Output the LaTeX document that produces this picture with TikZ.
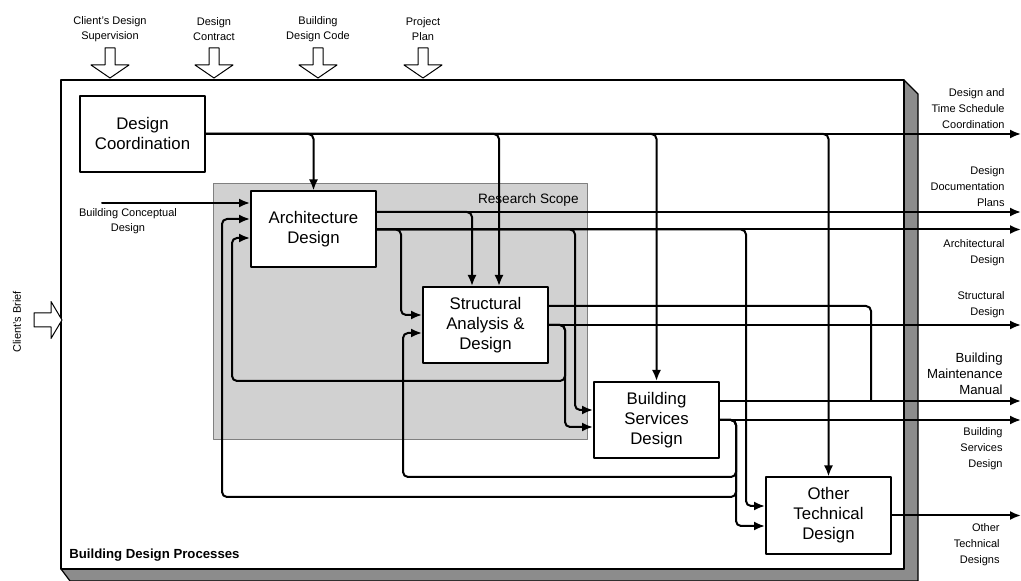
\documentclass[tikz,border=0pt]{standalone}
\usepackage{fontspec}
\setmainfont{Liberation Sans}
\usetikzlibrary{arrows.meta}

\begin{document}
\begin{tikzpicture}[x=0.5pt,y=-0.5pt,line cap=round,line join=round,
  flow/.style={line width=1pt,rounded corners=2.5pt,-{Latex[length=5.5pt,width=4.5pt]}},
  link/.style={line width=1pt,rounded corners=2.5pt},
  proc/.style={draw,line width=1pt,fill=white,minimum width=62.5pt,minimum height=38pt,
    align=center,inner sep=1pt,font=\fontsize{8.4}{10}\selectfont},
  lbl/.style={inner sep=0pt,align=center,font=\fontsize{5.5}{7.5}\selectfont},
  outlbl/.style={inner sep=0pt,align=right,anchor=east,font=\fontsize{5.5}{8}\selectfont},
  hollow/.style={draw,line width=0.5pt,fill=white}]
  \useasboundingbox (0,0) rectangle (1021,581);
  \coordinate (rim) at (1021,0);
  \coordinate (drop) at (871,0);
  \coordinate (bcdin) at (102,203);

  \fill[black!45,draw=black,line width=0.6pt] (904,80) -- (918,94) -- (918,581) -- (70,581) -- (61,569) -- (904,569) -- cycle;
  \draw[line width=1pt,fill=white] (61,80) rectangle (904,569);
  \node[anchor=west,inner sep=0pt,font=\fontsize{6.6}{8}\selectfont\bfseries] (bdp) at (69,555) {Building Design Processes};

  \draw[black!50,fill=black!18,line width=0.4pt] (213,183) rectangle (587,439);
  \node[anchor=east,inner sep=0pt,font=\fontsize{6.8}{8}\selectfont] (rs) at (579,200) {Research Scope};

  \foreach \x/\txt [count=\i] in {110/{Client's Design\\Supervision},214/{Design\\Contract},318/{Building\\Design Code},423/{Project\\Plan}} {
    \draw[hollow] (\x-5,48) -- (\x+5,48) -- (\x+5,65) -- (\x+19,65) -- (\x,78) -- (\x-19,65) -- (\x-5,65) -- cycle;
    \node[lbl] (ctl\i) at (\x,29.5) {\txt};
  }
  \draw[hollow] (34,313) -- (51,313) -- (51,301.5) -- (62,320) -- (51,338.5) -- (51,327) -- (34,327) -- cycle;
  \node[lbl,rotate=90] (cb) at (17,322) {Client's Brief};

  \node[proc] (dc) at (142.5,134) {Design\\Coordination};
  \node[proc] (arch) at (313.5,229.5) {Architecture\\Design};
  \node[proc] (struct) at (485.5,325) {Structural\\Analysis \&\\Design};
  \node[proc] (bsd) at (656.5,420) {Building\\Services\\Design};
  \node[proc] (otd) at (828.5,515.5) {Other\\Technical\\Design};

  \coordinate (a1) at ([yshift=8.75pt]arch.east);
  \coordinate (s1) at ([yshift=9.5pt]struct.east);
  \coordinate (b1) at ([yshift=9.5pt]bsd.east);

  \draw[flow] (bcdin) -- (bcdin -| arch.west);
  \node[lbl] (bcd) at (128,221) {Building Conceptual\\Design};

  \draw[flow] (dc.east) -- (dc.east -| rim);
  \draw[flow] (dc.east) -| (arch.north);
  \draw[flow] (dc.east) -| ([xshift=6.75pt]struct.north);
  \draw[flow] (dc.east) -| (bsd.north);
  \draw[flow] (dc.east) -| (otd.north);

  \draw[flow] (a1) -- (a1 -| rim);
  \draw[flow] (a1) -| ([xshift=-6.75pt]struct.north);
  \draw[flow] (arch.east) -- (arch.east -| rim);
  \draw[flow] (arch.east) -| ([xshift=-10.5pt,yshift=5pt]struct.west) -- ([yshift=5pt]struct.west);
  \draw[flow] (arch.east) -| ([xshift=-9pt,yshift=5pt]bsd.west) -- ([yshift=5pt]bsd.west);
  \draw[flow] (arch.east) -| ([xshift=-9.5pt,yshift=4.75pt]otd.west) -- ([yshift=4.75pt]otd.west);

  \draw[link] (s1) -| (b1 -| drop);
  \draw[flow] (struct.east) -- (struct.east -| rim);
  \draw[flow] (struct.east) -| ([xshift=-14pt,yshift=-3.5pt]bsd.west) -- ([yshift=-3.5pt]bsd.west);
  \draw[flow] (struct.east) -| ([xshift=-14pt,yshift=19.5pt]bsd.west) -| ([xshift=-9pt,yshift=-4.25pt]arch.west) -- ([yshift=-4.25pt]arch.west);

  \draw[flow] (b1) -- (b1 -| rim);
  \draw[flow] (bsd.east) -- (bsd.east -| rim);
  \draw[flow] (bsd.east) -| ([xshift=-14.5pt,yshift=-5.25pt]otd.west) -- ([yshift=-5.25pt]otd.west);
  \draw[flow] (bsd.east) -| ([xshift=-14.5pt,yshift=19.25pt]otd.west) -| ([xshift=-9.5pt,yshift=-4pt]struct.west) -- ([yshift=-4pt]struct.west);
  \draw[flow] (bsd.east) -| ([xshift=-14.5pt,yshift=9.25pt]otd.west) -| ([xshift=-14pt,yshift=5.25pt]arch.west) -- ([yshift=5.25pt]arch.west);

  \draw[flow] (otd.east) -- (otd.east -| rim);

  \node[outlbl] (l1) at (1005,109) {Design and\\Time Schedule\\Coordination};
  \node[outlbl] (l2) at (1005,187) {Design\\Documentation\\Plans};
  \node[outlbl] (l3) at (1005,253) {Architectural\\Design};
  \node[outlbl] (l4) at (1005,305) {Structural\\Design};
  \node[outlbl,font=\fontsize{6.6}{8}\selectfont] (l5) at (1003,374) {Building\\Maintenance\\Manual};
  \node[outlbl] (l6) at (1003,449) {Building\\Services\\Design};
  \node[outlbl] (l7) at (1000,545) {Other\\Technical\\Designs};
\end{tikzpicture}
\end{document}
